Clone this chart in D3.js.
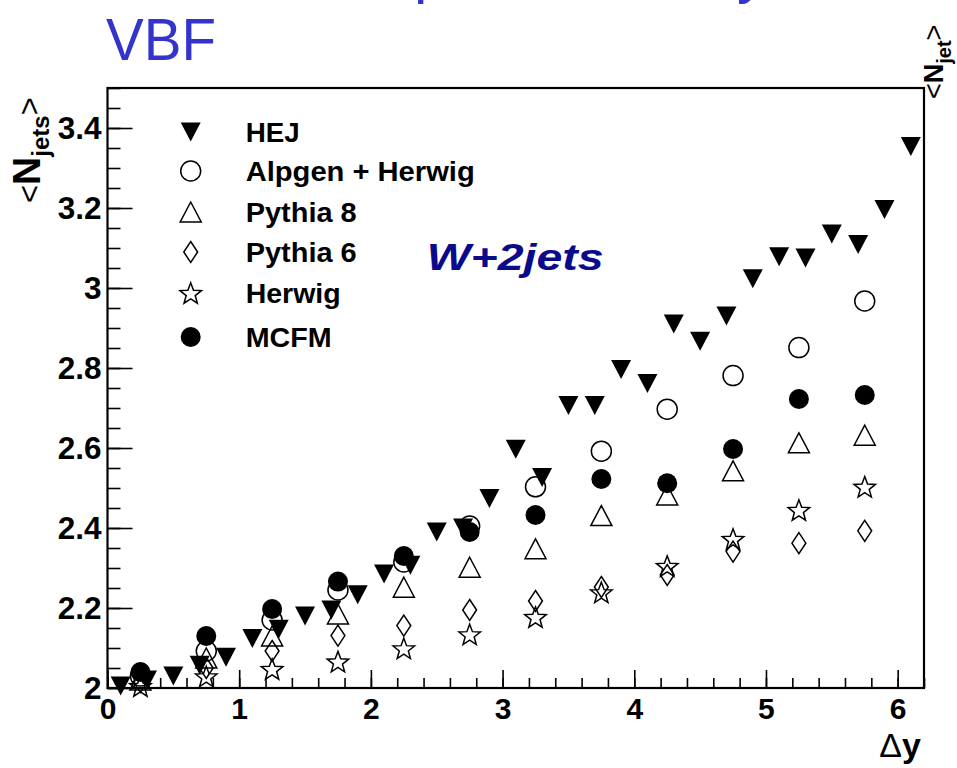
<!DOCTYPE html>
<html><head><meta charset="utf-8">
<script src="https://cdn.jsdelivr.net/npm/d3@7"></script>
<style>
html,body{margin:0;padding:0;background:#fff;}
svg{display:block;}
text{font-family:"Liberation Sans",Arial,Helvetica,sans-serif;}
</style></head>
<body>
<div id="chart"></div>
<script>
// ---------------- data ----------------
const hejX = [0.1,0.3,0.5,0.7,0.9,1.1,1.3,1.5,1.7,1.9,2.1,2.3,2.5,2.7,2.9,3.1,3.3,3.5,3.7,3.9,4.1,4.3,4.5,4.7,4.9,5.1,5.3,5.5,5.7,5.9,6.1];
const hejY = [2.005,2.02,2.03,2.057,2.077,2.124,2.147,2.18,2.195,2.233,2.285,2.307,2.39,2.40,2.474,2.597,2.526,2.706,2.706,2.796,2.761,2.91,2.867,2.93,3.023,3.078,3.075,3.135,3.109,3.196,3.354];
const binX = [0.25,0.75,1.25,1.75,2.25,2.75,3.25,3.75,4.25,4.75,5.25,5.75];
const alpgenY  = [2.03,2.0925,2.17,2.245,2.315,2.405,2.503,2.592,2.697,2.781,2.851,2.9675];
const pythia8Y = [2.02,2.075,2.13,2.185,2.252,2.302,2.348,2.431,2.4825,2.543,2.613,2.632];
const pythia6Y = [2.015,2.05,2.0925,2.131,2.156,2.195,2.2175,2.2525,2.2825,2.341,2.362,2.393];
const herwigY  = [2.005,2.029,2.0475,2.066,2.099,2.134,2.1775,2.239,2.305,2.3725,2.445,2.503];
const mcfmY    = [2.04,2.13,2.1975,2.266,2.33,2.39,2.4325,2.5225,2.512,2.5975,2.7225,2.7325];
const seriesNames = ["HEJ","Alpgen + Herwig","Pythia 8","Pythia 6","Herwig","MCFM"];
const xMajorTicks = [0,1,2,3,4,5,6];
const yMajorTicks = [2,2.2,2.4,2.6,2.8,3,3.2,3.4];

// ---------------- layout ----------------
const W = 957, H = 768;
const L = 107.5, R = 924, T = 88, B = 688;
const x = d3.scaleLinear().domain([0, 6.2]).range([L, R]);
const y = d3.scaleLinear().domain([2, 3.5]).range([B, T]);

const svg = d3.select("#chart").append("svg").attr("width", W).attr("height", H);
svg.append("rect").attr("width", W).attr("height", H).attr("fill", "#fff");

// ---------------- marker shapes (bbox centred like ROOT) ----------------
const triDown = {draw(c, s){ const r = s/2, h = r*0.95; c.moveTo(-r,-h); c.lineTo(r,-h); c.lineTo(0,h); c.closePath(); }};
const triUp = {draw(c, s){ const r = s/2, h = r*0.95; c.moveTo(0,-h); c.lineTo(r,h); c.lineTo(-r,h); c.closePath(); }};
const circ = {draw(c, s){ const r = s/2; c.moveTo(r,0); c.arc(0,0,r,0,2*Math.PI); c.closePath(); }};
const diam = {draw(c, s){ const h = s/2, w = h*0.66; c.moveTo(0,-h); c.lineTo(w,0); c.lineTo(0,h); c.lineTo(-w,0); c.closePath(); }};
const star = {draw(c, s){
  const Ro = s/1.902, Ri = Ro*0.42, off = 0.0955*Ro;
  for (let i = 0; i < 10; i++) {
    const a = -Math.PI/2 + i*Math.PI/5, rr = i%2 ? Ri : Ro;
    const px = rr*Math.cos(a), py = rr*Math.sin(a) + off;
    if (i === 0) c.moveTo(px, py); else c.lineTo(px, py);
  }
  c.closePath();
}};

const styles = [
  {type: triDown, size: 20, fill: "#000", stroke: "none"},
  {type: circ, size: 20, fill: "none", stroke: "#000"},
  {type: triUp, size: 21, fill: "none", stroke: "#000"},
  {type: diam, size: 21, fill: "none", stroke: "#000"},
  {type: star, size: 21.5, fill: "none", stroke: "#000"},
  {type: circ, size: 20, fill: "#000", stroke: "none"}
];

// ---------------- axes ----------------
const font = "Liberation Sans";
const yMinor = d3.range(2, 3.5001, 0.05).map(v => +v.toFixed(2));
const xMinor = d3.range(0, 6.2001, 0.2).map(v => +v.toFixed(1));

const gyMinor = svg.append("g").attr("transform", `translate(${L},0)`)
  .call(d3.axisLeft(y).tickValues(yMinor).tickSize(-13).tickFormat(""));
const gy = svg.append("g").attr("transform", `translate(${L},0)`)
  .call(d3.axisLeft(y).tickValues(yMajorTicks).tickSize(-25).tickPadding(6).tickFormat(d3.format("~g")));
const gxMinor = svg.append("g").attr("transform", `translate(0,${B})`)
  .call(d3.axisBottom(x).tickValues(xMinor).tickSize(-10).tickFormat(""));
const gx = svg.append("g").attr("transform", `translate(0,${B})`)
  .call(d3.axisBottom(x).tickValues(xMajorTicks).tickSize(-18).tickPadding(10).tickFormat(d3.format("d")));
[gyMinor, gy, gxMinor, gx].forEach(g => {
  g.select(".domain").remove();
  g.selectAll("line").attr("stroke", "#000").attr("stroke-width", 1.6);
  g.selectAll("text").attr("fill", "#000").attr("font-family", font)
    .attr("font-weight", "bold").attr("font-size", 30);
});
gy.selectAll("text").attr("font-size", 31.5);

// frame
svg.append("rect").attr("x", L).attr("y", T).attr("width", R - L).attr("height", B - T)
  .attr("fill", "none").attr("stroke", "#000").attr("stroke-width", 2.2);

// ---------------- data points ----------------
const dataSets = [
  hejX.map((v, i) => [v, hejY[i]]),
  binX.map((v, i) => [v, alpgenY[i]]),
  binX.map((v, i) => [v, pythia8Y[i]]),
  binX.map((v, i) => [v, pythia6Y[i]]),
  binX.map((v, i) => [v, herwigY[i]]),
  binX.map((v, i) => [v, mcfmY[i]])
];

dataSets.forEach((ds, k) => {
  const st = styles[k];
  const sym = d3.symbol().type(st.type).size(st.size);
  svg.append("g").selectAll("path").data(ds).join("path")
    .attr("transform", d => `translate(${x(d[0])},${y(d[1])})`)
    .attr("d", sym)
    .attr("fill", st.fill).attr("stroke", st.stroke).attr("stroke-width", 1.5)
    .attr("stroke-linejoin", "miter");
});

// ---------------- legend ----------------
const legRows = [132, 171, 212, 252, 293, 337];
const legWidths = [54, 229, 111, 111, 95, 86];
const leg = svg.append("g");
seriesNames.forEach((name, k) => {
  const st = styles[k];
  leg.append("path").attr("transform", `translate(190.7,${legRows[k]})`)
    .attr("d", d3.symbol().type(st.type).size(st.size))
    .attr("fill", st.fill).attr("stroke", st.stroke).attr("stroke-width", 1.5);
  leg.append("text").attr("x", 245.7).attr("y", legRows[k] + 9.8)
    .attr("font-family", font).attr("font-weight", "bold").attr("font-size", 27)
    .attr("textLength", legWidths[k]).attr("lengthAdjust", "spacingAndGlyphs")
    .text(name);
});

// ---------------- annotations ----------------
svg.append("text").attr("x", 426.7).attr("y", 270)
  .attr("font-family", font).attr("font-weight", "bold").attr("font-style", "italic")
  .attr("font-size", 36.5).attr("fill", "#0a0a8c")
  .attr("textLength", 177).attr("lengthAdjust", "spacingAndGlyphs")
  .text("W+2jets");

// x-axis title
const xt = svg.append("text").attr("x", 921).attr("y", 757).attr("text-anchor", "end")
  .attr("font-family", font).attr("font-size", 34);
xt.append("tspan").text("Δ");
xt.append("tspan").attr("font-weight", "bold").text("y");

// y-axis title (rotated)
const yt = svg.append("text").attr("transform", "translate(40,203) rotate(-90)")
  .attr("font-family", font).attr("fill", "#000");
yt.append("tspan").attr("font-size", 31).text("<");
yt.append("tspan").attr("font-size", 39).attr("font-weight", "bold").text("N");
yt.append("tspan").attr("font-size", 24).attr("font-weight", "bold").attr("dy", 9).text("jets");
yt.append("tspan").attr("font-size", 31).attr("dy", -9).text(">");

// neighbouring pad label at right edge (cut off)
const rt = svg.append("text").attr("transform", "translate(943,99) rotate(-90)")
  .attr("font-family", font).attr("fill", "#000");
rt.append("tspan").attr("font-size", 27).text("<");
rt.append("tspan").attr("font-size", 27).attr("font-weight", "bold").text("N");
rt.append("tspan").attr("font-size", 20).attr("font-weight", "bold").attr("dy", 8).text("jet");
rt.append("tspan").attr("font-size", 27).attr("dy", -8).text(">");

// VBF label and cut-off title descenders
svg.append("text").attr("x", 106).attr("y", 60)
  .attr("font-family", "DejaVu Sans").attr("font-size", 60).attr("fill", "#3434cc")
  .attr("textLength", 110).attr("lengthAdjust", "spacingAndGlyphs")
  .text("VBF");
svg.append("text").attr("x", 414).attr("y", -8)
  .attr("font-family", "DejaVu Sans").attr("font-size", 60).attr("fill", "#3434cc").text("p");
svg.append("text").attr("x", 737).attr("y", -8)
  .attr("font-family", "DejaVu Sans").attr("font-size", 60).attr("fill", "#3434cc").text("y");
</script>
</body></html>
